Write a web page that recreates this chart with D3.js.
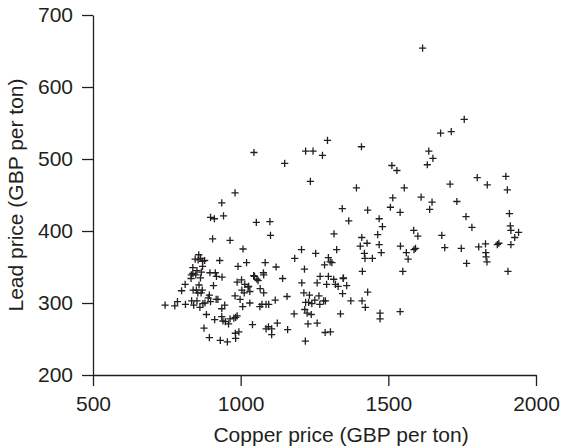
<!DOCTYPE html>
<html>
<head>
<meta charset="utf-8">
<script src="https://cdn.jsdelivr.net/npm/d3@7/dist/d3.min.js"></script>
<style>
  html, body { margin: 0; padding: 0; background: #fff; }
  svg { display: block; }
  text { font-family: "Liberation Sans", Arial, Helvetica, sans-serif; fill: #231f20; }
</style>
</head>
<body>
<svg id="chart" width="561" height="448"></svg>
<script>
// Monthly copper and lead prices (GBP per ton)
const copper = [
  1616, 1757, 1677, 1713, 1294, 1409, 1045, 1220, 1245, 1277, 1637, 1632, 1651, 1149, 1512, 1529,
  1236, 981, 1392, 1554, 1709, 1801, 1835, 1898, 1903, 1515, 1611, 1732, 1648, 936, 1344, 1507,
  1540, 1430, 1640, 1910, 942, 898, 911, 1053, 1099, 1366, 1469, 1763, 1480, 1783, 1913, 1915,
  1586, 1941, 1928, 1600, 1316, 1681, 1464, 905, 964, 1101, 1410, 1691, 1405, 1428, 1747, 1806,
  1829, 1915, 1869, 1874, 1541, 1469, 1592, 1587, 1561, 1476, 1567, 1765, 1830, 1831, 1834, 1905,
  1549, 1419, 1421, 1446, 1412, 1430, 1411, 1422, 1472, 1472, 1540, 1373, 1345, 1338, 1008, 1206,
  1325, 1254, 1183, 1216, 1120, 1142, 1207, 1297, 1303, 1309, 1284, 1269, 1297, 1291, 1259, 1315,
  1347, 1321, 1330, 1359, 1348, 1214, 1233, 1220, 1230, 1241, 1265, 1268, 1251, 1287, 1281, 1217,
  1225, 1239, 1228, 1259, 1286, 1304, 1219, 1157, 1181, 1159, 1117, 1124, 1105, 1086, 1105, 1094,
  1040, 1086, 1072, 1095, 1065, 1078, 1066, 1077, 1078, 1083, 1059, 1047, 1055, 1031, 1014, 1025,
  1031, 1027, 1012, 1004, 1020, 991, 1003, 988, 998, 1007, 981, 988, 983, 977, 964, 959,
  948, 940, 912, 936, 994, 982, 983, 955, 931, 894, 876, 884, 946, 936, 917, 923,
  898, 890, 894, 879, 872, 862, 852, 834, 841, 813, 800, 812, 832, 833, 838, 848,
  852, 838, 846, 856, 858, 864, 871, 878, 871, 867, 864, 859, 850, 839, 855, 866,
  870, 896, 914, 918, 937, 908, 929, 744, 777, 786, 1044
];
const lead = [
  654, 555, 536, 538, 526, 517, 509, 511, 511, 505, 511, 492, 501, 494, 491, 484,
  469, 453, 460, 460, 465, 474, 464, 476, 457, 446, 447, 441, 440, 439, 431, 433,
  426, 429, 430, 424, 421, 419, 417, 412, 413, 414, 417, 420, 406, 405, 407, 401,
  401, 398, 391, 393, 396, 394, 395, 389, 387, 394, 391, 377, 379, 383, 376, 378,
  382, 381, 381, 383, 379, 381, 376, 374, 370, 370, 361, 355, 370, 364, 357, 344,
  344, 369, 362, 362, 344, 315, 303, 294, 286, 278, 288, 303, 313, 285, 375, 374,
  374, 369, 362, 347, 350, 334, 328, 363, 357, 356, 353, 337, 337, 326, 328, 333,
  334, 326, 323, 324, 335, 314, 311, 301, 301, 299, 310, 298, 304, 303, 303, 291,
  286, 284, 271, 272, 259, 260, 247, 309, 285, 263, 304, 272, 264, 264, 256, 267,
  270, 298, 298, 298, 295, 314, 320, 342, 339, 356, 331, 337, 333, 300, 326, 322,
  316, 323, 314, 318, 356, 351, 332, 329, 305, 295, 310, 282, 280, 279, 278, 271,
  274, 275, 277, 281, 260, 258, 251, 246, 248, 252, 265, 284, 297, 292, 305, 305,
  302, 307, 311, 300, 299, 294, 303, 303, 297, 298, 317, 326, 334, 339, 341, 339,
  345, 349, 361, 360, 367, 362, 358, 359, 351, 343, 335, 325, 318, 318, 314, 314,
  318, 342, 342, 337, 336, 324, 359, 297, 296, 302, 338
];
const xTicks = [500, 1000, 1500, 2000];
const yTicks = [200, 300, 400, 500, 600, 700];
const xTitle = "Copper price (GBP per ton)";
const yTitle = "Lead price (GBP per ton)";

const points = copper.map((c, i) => ({ copper: c, lead: lead[i] }));

const margin = { left: 93, right: 25, top: 15, bottom: 73 };
const width = 561, height = 448;
const ink = "#231f20";
const fontSize = "21px";

const svg = d3.select("#chart");

const x = d3.scaleLinear().domain([500, 2000]).range([margin.left, width - margin.right]);
const y = d3.scaleLinear().domain([200, 700]).range([height - margin.bottom, margin.top]);

// Axes: left and bottom only, ticks pointing outward
const xAxis = svg.append("g")
  .attr("transform", `translate(0,${height - margin.bottom})`)
  .call(d3.axisBottom(x).tickValues(xTicks).tickFormat(d3.format("d")).tickSize(11).tickSizeOuter(0).tickPadding(10));

const yAxis = svg.append("g")
  .attr("transform", `translate(${margin.left},0)`)
  .call(d3.axisLeft(y).tickValues(yTicks).tickFormat(d3.format("d")).tickSize(11).tickSizeOuter(0).tickPadding(9));

[xAxis, yAxis].forEach(g => {
  g.select(".domain").attr("stroke", ink).attr("stroke-width", 1.3);
  g.selectAll(".tick line").attr("stroke", ink).attr("stroke-width", 1.3);
  g.selectAll(".tick text")
    .attr("fill", ink)
    .style("font-size", fontSize)
    .style("font-family", "'Liberation Sans', Arial, Helvetica, sans-serif");
});

// Axis titles
svg.append("text")
  .attr("x", x(1340))
  .attr("y", 442)
  .attr("text-anchor", "middle")
  .style("font-size", fontSize)
  .text(xTitle);

svg.append("text")
  .attr("transform", `translate(23,${(y.range()[0] + y.range()[1]) / 2}) rotate(-90)`)
  .attr("text-anchor", "middle")
  .style("font-size", fontSize)
  .text(yTitle);

// Plus-sign markers
const arm = 3.6;
svg.append("g")
  .selectAll("path")
  .data(points)
  .join("path")
  .attr("transform", d => `translate(${x(d.copper)},${y(d.lead)})`)
  .attr("d", `M${-arm},0H${arm}M0,${-arm}V${arm}`)
  .attr("stroke", ink)
  .attr("stroke-width", 1.3)
  .attr("fill", "none");
</script>
</body>
</html>
